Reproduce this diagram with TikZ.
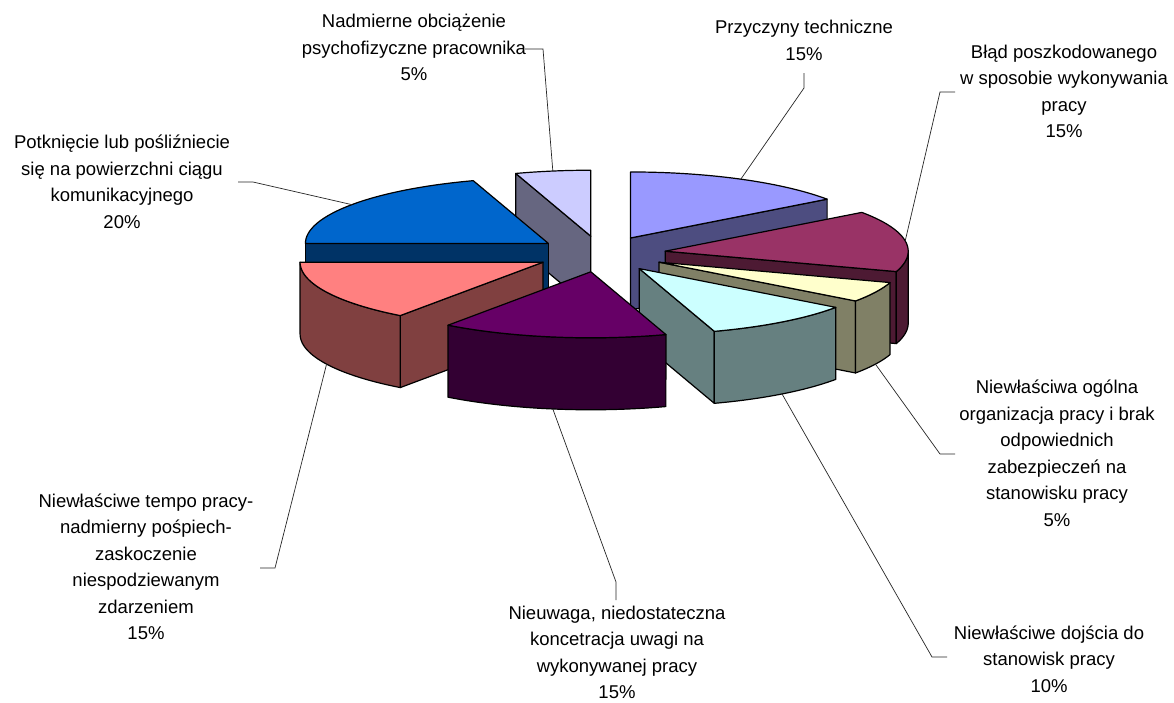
\documentclass[tikz,border=0pt]{standalone}
\usepackage{fontspec}
\setmainfont{Liberation Sans}
\definecolor{periT}{HTML}{9999FF}\definecolor{periS}{HTML}{4D4D80}
\definecolor{marT}{HTML}{993366}\definecolor{marS}{HTML}{4D1A33}
\definecolor{yelT}{HTML}{FFFFCC}\definecolor{yelS}{HTML}{808066}
\definecolor{cyaT}{HTML}{CCFFFF}\definecolor{cyaS}{HTML}{668080}
\definecolor{purT}{HTML}{660066}\definecolor{purS}{HTML}{330033}
\definecolor{salT}{HTML}{FF8080}\definecolor{salS}{HTML}{804040}
\definecolor{bluT}{HTML}{0066CC}\definecolor{bluS}{HTML}{003366}
\definecolor{lavT}{HTML}{CCCCFF}\definecolor{lavS}{HTML}{666680}
\tikzset{
  face/.style={draw=black, line width=1.2pt, line join=round},
  leader/.style={draw=black!85, line width=0.7pt},
  lbl/.style={align=center, inner sep=0pt, font=\fontsize{18.5}{26.5}\selectfont}
}
% #1 name, #2 start, #3 end (clockwise from 12 o'clock), #4 top colour, #5 side colour
\newcommand\pieslice[5]{%
  \pgfmathsetmacro\psSA{#2}\pgfmathsetmacro\psSB{#3}%
  \pgfmathsetmacro\psSM{(#2+#3)/2}%
  \pgfmathsetmacro\psCx{601+65*sin(\psSM)}%
  \pgfmathsetmacro\psCy{254-18*cos(\psSM)}%
  % start face
  \pgfmathparse{(\psSA>180)&&(\psSA<360)?1:0}%
  \ifdim\pgfmathresult pt>0.5pt
    \filldraw[face, fill=#5] (\psCx,\psCy) -- ({\psCx+243*sin(\psSA)},{\psCy-66*cos(\psSA)}) -- ++(0,72) -- (\psCx,{\psCy+72}) -- cycle;
  \fi
  % end face
  \pgfmathparse{(\psSB>0)&&(\psSB<180)?1:0}%
  \ifdim\pgfmathresult pt>0.5pt
    \filldraw[face, fill=#5] (\psCx,\psCy) -- ({\psCx+243*sin(\psSB)},{\psCy-66*cos(\psSB)}) -- ++(0,72) -- (\psCx,{\psCy+72}) -- cycle;
  \fi
  % curved front
  \pgfmathsetmacro\psA{max(\psSA,90)}%
  \pgfmathsetmacro\psB{min(\psSB,270)}%
  \pgfmathparse{\psA<\psB?1:0}%
  \ifdim\pgfmathresult pt>0.5pt
    \filldraw[face, fill=#5] plot[domain=0:1, samples=40, variable=\t] ({\psCx+243*sin(\psA+\t*(\psB-\psA))},{\psCy-66*cos(\psA+\t*(\psB-\psA))})
      -- plot[domain=0:1, samples=40, variable=\t] ({\psCx+243*sin(\psB-\t*(\psB-\psA))},{\psCy+72-66*cos(\psB-\t*(\psB-\psA))}) -- cycle;
  \fi
  % top
  \filldraw[face, fill=#4] (\psCx,\psCy) -- plot[domain=0:1, samples=50, variable=\t] ({\psCx+243*sin(\psSA+\t*(\psSB-\psSA))},{\psCy-66*cos(\psSA+\t*(\psSB-\psSA))}) -- cycle;
  \coordinate (#1-top) at ({\psCx+243*sin(\psSM)},{\psCy-66*cos(\psSM)});
  \coordinate (#1-bot) at ({\psCx+243*sin(\psSM)},{\psCy+72-66*cos(\psSM)});
}
\begin{document}
\begin{tikzpicture}[x=1pt, y=-1pt]
\useasboundingbox[fill=white] (0,0) rectangle (1174,702);
% slices, back to front
\pieslice{lav}{342}{360}{lavT}{lavS}
\pieslice{peri}{0}{54}{periT}{periS}
\pieslice{blu}{270}{342}{bluT}{bluS}
\pieslice{mar}{54}{108}{marT}{marS}
\pieslice{yel}{108}{126}{yelT}{yelS}
\pieslice{sal}{216}{270}{salT}{salS}
\pieslice{cya}{126}{162}{cyaT}{cyaS}
\pieslice{pur}{162}{216}{purT}{purS}
% labels
\node[lbl] (lLav) at (414,47.5) {Nadmierne obciążenie\\psychofizyczne pracownika\\5\%};
\node[lbl] (lPeri) at (804,40.5) {Przyczyny techniczne\\15\%};
\node[lbl] (lMar) at (1064,91.5) {Błąd poszkodowanego\\w sposobie wykonywania\\pracy\\15\%};
\node[lbl] (lYel) at (1057,453.5) {Niewłaściwa ogólna\\organizacja pracy i brak\\odpowiednich\\zabezpieczeń na\\stanowisku pracy\\5\%};
\node[lbl] (lCya) at (1049,659) {Niewłaściwe dojścia do\\stanowisk pracy\\10\%};
\node[lbl] (lPur) at (617,652.5) {Nieuwaga, niedostateczna\\koncetracja uwagi na\\wykonywanej pracy\\15\%};
\node[lbl] (lSal) at (146,567) {Niewłaściwe tempo pracy-\\nadmierny pośpiech-\\zaskoczenie\\niespodziewanym\\zdarzeniem\\15\%};
\node[lbl] (lBlu) at (122,182) {Potknięcie lub pośliźniecie\\się na powierzchni ciągu\\komunikacyjnego\\20\%};
% leader elbows
\coordinate (eLav1) at (525,49);  \coordinate (eLav2) at (543,49);
\coordinate (ePeri1) at (804,73); \coordinate (ePeri2) at (804,88);
\coordinate (eMar1) at (955,92);  \coordinate (eMar2) at (940,92);
\coordinate (eYel1) at (955,454); \coordinate (eYel2) at (940,454);
\coordinate (eCya1) at (947,657); \coordinate (eCya2) at (932,657);
\coordinate (ePur1) at (616,600); \coordinate (ePur2) at (616,582);
\coordinate (eSal1) at (260,568); \coordinate (eSal2) at (275,568);
\coordinate (eBlu1) at (238,182); \coordinate (eBlu2) at (253,182);
\draw[leader] (eLav1) -- (eLav2) -- (lav-top);
\draw[leader] (ePeri1) -- (ePeri2) -- (peri-top);
\draw[leader] (eMar1) -- (eMar2) -- (mar-top);
\draw[leader] (eYel1) -- (eYel2) -- (yel-bot);
\draw[leader] (eCya1) -- (eCya2) -- (cya-bot);
\draw[leader] (ePur1) -- (ePur2) -- (pur-bot);
\draw[leader] (eSal1) -- (eSal2) -- (sal-bot);
\draw[leader] (eBlu1) -- (eBlu2) -- (blu-top);
\end{tikzpicture}
\end{document}
